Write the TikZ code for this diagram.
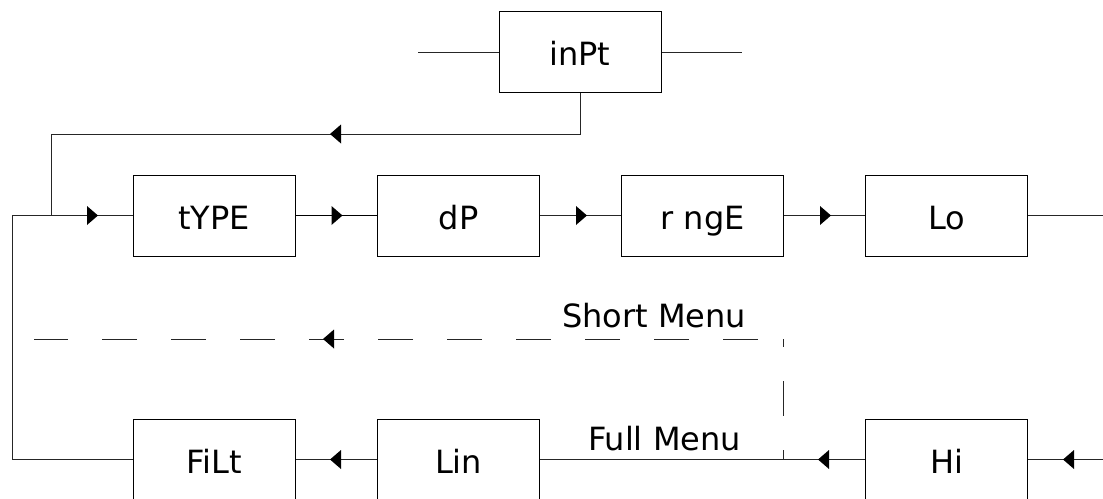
\documentclass[tikz,border=0pt]{standalone}
\usepackage{fontspec}
\setmainfont{DejaVu Sans}
\usetikzlibrary{decorations.markings}
\tikzset{
  box/.style={draw=black, line width=1pt, minimum width=162pt, minimum height=81pt,
    inner sep=0pt, text height=27pt, text depth=0pt,
    font=\fontsize{32pt}{38pt}\selectfont},
  lbl/.style={inner sep=0pt, font=\fontsize{32pt}{38pt}\selectfont},
  conn/.style={line width=1pt, draw=black!85},
  arr/.style={postaction={decorate}, decoration={markings,
    mark=at position #1 with {\fill[black, solid] (0pt,0pt) -- (-11pt,9.5pt) -- (-11pt,-9.5pt) -- cycle;}}},
  dsh/.style={dash pattern=on 35pt off 34pt}
}
\begin{document}
\begin{tikzpicture}[x=1pt,y=-1pt]
\useasboundingbox (0,0) rectangle (1103,498);
\clip (0,0) rectangle (1103,498);
% nodes
\node[box] (inPt) at (580,52) {inPt};
\node[box] (tYPE) at (214,215.5) {tYPE};
\node[box] (dP) at (458.5,215.5) {dP};
\node[box] (rngE) at (702.5,215.5) {r ngE};
\node[box] (Lo) at (946.5,215.5) {Lo};
\node[box] (FiLt) at (214,459.5) {FiLt};
\node[box] (Lin) at (458.5,459.5) {Lin};
\node[box] (Hi) at (946.5,459.5) {Hi};
% coordinates
\coordinate (inL) at (418,52);
\coordinate (inR) at (742,52);
\coordinate (jtop) at (51,134);
\coordinate (jin) at (51,215.5);
\coordinate (lc) at (12,215.5);
\coordinate (re) at (1103,215.5);
\coordinate (rb) at (1103,459.5);
\coordinate (dk) at (783,459.5);
\coordinate (dc) at (783,339);
\coordinate (dl) at (34,339);
% connectors
\draw[conn] (inL) -- (inPt.west);
\draw[conn] (inPt.east) -- (inR);
\draw[conn, arr=291pt] (inPt.south) |- (jtop) -- (jin);
\draw[conn] (FiLt.west) -| (lc);
\draw[conn, arr=86pt] (lc) -- (tYPE.west);
\draw[conn, line width=1.5pt, draw=black, arr=47pt] (tYPE.east) -- (dP.west);
\draw[conn, arr=47pt] (dP.east) -- (rngE.west);
\draw[conn, arr=47pt] (rngE.east) -- (Lo.west);
\draw[conn] (Lo.east) -- (re);
\draw[conn, arr=40pt] (rb) -- (Hi.east);
\draw[conn, arr=47pt] (Hi.west) -- (Lin.east);
\draw[conn, arr=47pt] (Lin.west) -- (FiLt.east);
\draw[conn, dsh, dash phase=27pt] (dc) -- (dk);
\draw[conn, dsh, dash phase=44pt, arr=460pt] (dc) -- (dl);
% labels
\node[lbl, anchor=base] (sm) at (654,327) {Short Menu};
\node[lbl, anchor=base] (fm) at (664.5,450) {Full Menu};
\end{tikzpicture}
\end{document}
